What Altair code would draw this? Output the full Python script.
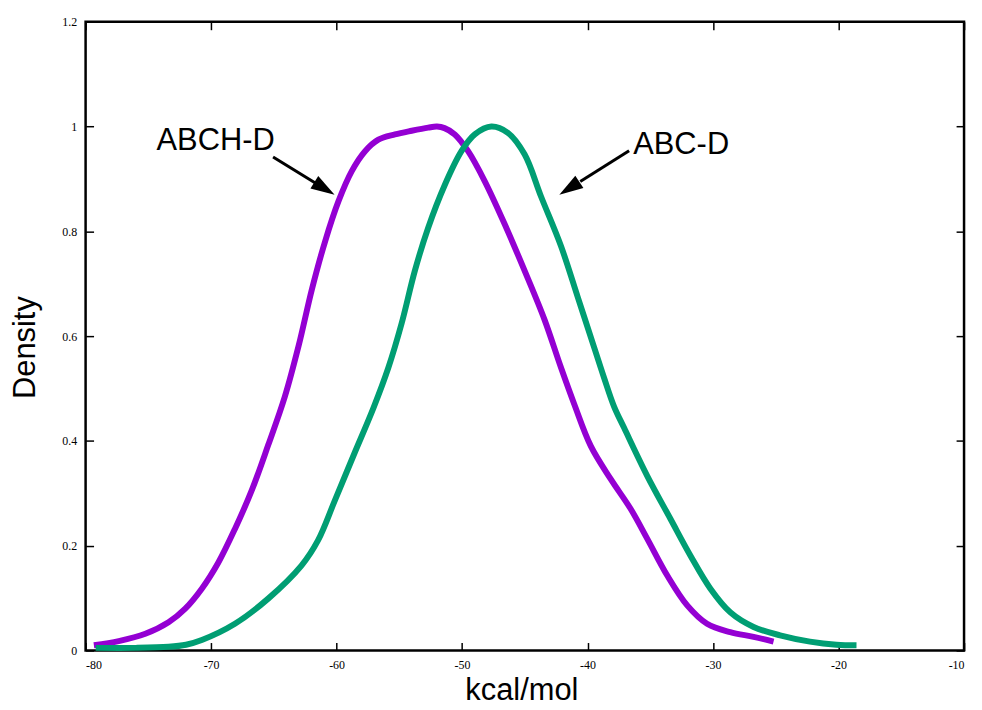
import altair as alt
import pandas as pd

# ---- data ----
abch_x = [-79.34, -77.36, -75.24, -73.39, -72.06, -70.74, -69.42, -68.10, -66.77, -65.45,
          -64.13, -63.02, -61.96, -60.90, -59.84, -58.79, -57.73, -56.67, -55.35, -54.02,
          -52.70, -52.00, -51.40, -50.58, -49.52, -48.20, -46.61, -45.02, -43.44, -42.12,
          -41.06, -39.74, -38.15, -36.56, -35.24, -33.65, -32.06, -30.48, -28.63, -26.77, -25.18]
abch_y = [0.010, 0.018, 0.032, 0.054, 0.080, 0.118, 0.168, 0.232, 0.305, 0.392,
          0.484, 0.582, 0.690, 0.782, 0.858, 0.915, 0.953, 0.975, 0.985, 0.992,
          0.998, 1.000, 0.997, 0.985, 0.953, 0.896, 0.814, 0.725, 0.632, 0.540,
          0.470, 0.390, 0.327, 0.270, 0.213, 0.143, 0.086, 0.051, 0.035, 0.026, 0.017]

abc_x = [-79.20, -76.00, -73.39, -72.00, -70.74, -68.10, -65.45, -62.80, -61.48, -60.16,
         -58.60, -57.06, -55.87, -54.82, -53.76, -52.70, -51.37, -50.05, -48.99, -47.67,
         -46.35, -45.02, -43.70, -42.12, -40.79, -39.47, -38.68, -37.88, -37.09, -35.24,
         -33.39, -31.80, -30.21, -28.63, -26.77, -24.66, -22.28, -20.16, -18.57]
abc_y = [0.005, 0.005, 0.007, 0.011, 0.020, 0.051, 0.099, 0.162, 0.210, 0.285,
         0.375, 0.463, 0.540, 0.624, 0.725, 0.807, 0.889, 0.953, 0.985, 1.000,
         0.988, 0.947, 0.866, 0.772, 0.675, 0.578, 0.520, 0.465, 0.425, 0.333,
         0.251, 0.181, 0.118, 0.073, 0.045, 0.029, 0.017, 0.011, 0.010]

series_names = ["ABCH-D", "ABC-D"]
series_colors = ["#9400D3", "#009E73"]

x_ticks = [-80, -70, -60, -50, -40, -30, -20, -10]
y_ticks = [0, 0.2, 0.4, 0.6, 0.8, 1, 1.2]

label_text = ["ABCH-D", "ABC-D"]
label_x = [-69.64, -32.54]
label_y = [0.956, 0.948]

arrow_x1 = [-65.06, -36.69]
arrow_y1 = [0.942, 0.954]
arrow_x2 = [-60.16, -42.25]
arrow_y2 = [0.8696, 0.8696]
arrow_angle = [122, 237]

# ---- tables ----
lines = pd.concat([
    pd.DataFrame({"x": abch_x, "y": abch_y, "s": series_names[0]}),
    pd.DataFrame({"x": abc_x, "y": abc_y, "s": series_names[1]}),
])
labels = pd.DataFrame({"x": label_x, "y": label_y, "t": label_text})
f = 0.7
arrows = pd.DataFrame({
    "x": arrow_x1, "y": arrow_y1,
    "xs": [a + f * (b - a) for a, b in zip(arrow_x1, arrow_x2)],
    "ys": [a + f * (b - a) for a, b in zip(arrow_y1, arrow_y2)],
    "x2": arrow_x2, "y2": arrow_y2, "ang": arrow_angle,
})

xscale = alt.Scale(domain=[-80, -10], nice=False, zero=False)
yscale = alt.Scale(domain=[0, 1.2], nice=False, zero=False)

tick_axis = dict(domain=False, grid=False, tickSize=8, offset=-8, tickWidth=1.5,
                 tickColor="black")
label_style = dict(labelFont="Liberation Serif", labelFontSize=12, labelColor="black",
                   labelExpr="'' + datum.value")
title_style = dict(titleFont="Liberation Sans", titleFontSize=31, titleFontWeight="normal",
                   titleColor="black")

x_bottom = alt.Axis(orient="bottom", values=x_ticks, labelPadding=9, title="kcal/mol",
                    titleX=438, titleY=57, titleBaseline="alphabetic", titleAnchor="middle",
                    **tick_axis, **label_style, **title_style)
y_left = alt.Axis(orient="left", values=y_ticks, labelPadding=9, title="Density",
                  titleX=-59, titleY=327, titleBaseline="alphabetic", titleAngle=-90,
                  titleAnchor="middle", **tick_axis, **label_style, **title_style)
x_top = alt.Axis(orient="top", values=x_ticks, labels=False, title=None, **tick_axis)
y_right = alt.Axis(orient="right", values=y_ticks, labels=False, title=None, **tick_axis)

line_layer = alt.Chart(lines).mark_line(strokeWidth=6, interpolate="catmull-rom").encode(
    x=alt.X("x:Q", scale=xscale, axis=x_bottom),
    y=alt.Y("y:Q", scale=yscale, axis=y_left),
    color=alt.Color("s:N", scale=alt.Scale(domain=series_names, range=series_colors), legend=None),
    detail="s:N",
)

ghost_layer = alt.Chart(lines).mark_point(opacity=0).encode(
    x=alt.X("x:Q", scale=xscale, axis=x_top),
    y=alt.Y("y:Q", scale=yscale, axis=y_right),
)

text_layer = alt.Chart(labels).mark_text(
    font="Liberation Sans", fontSize=31, color="black",
    align="center", baseline="alphabetic"
).encode(
    x=alt.X("x:Q", scale=xscale, axis=None),
    y=alt.Y("y:Q", scale=yscale, axis=None),
    text="t:N",
)

shaft_layer = alt.Chart(arrows).mark_rule(strokeWidth=3, color="black").encode(
    x=alt.X("x:Q", scale=xscale, axis=None),
    y=alt.Y("y:Q", scale=yscale, axis=None),
    x2="xs:Q",
    y2="ys:Q",
)

head_layer = alt.Chart(arrows).mark_point(
    shape="M0,0L0.31,1L-0.31,1Z", filled=True, color="black", opacity=1, size=2304, strokeWidth=0
).encode(
    x=alt.X("x2:Q", scale=xscale, axis=None),
    y=alt.Y("y2:Q", scale=yscale, axis=None),
    angle=alt.Angle("ang:Q", scale=None),
)

chart = alt.layer(line_layer, ghost_layer, text_layer, shaft_layer, head_layer).resolve_axis(
    x="independent", y="independent"
).properties(
    width=883, height=632,
    autosize=alt.AutoSizeParams(type="none"),
    padding={"left": 78, "top": 12, "right": 10, "bottom": 60},
    background="white",
).configure_view(stroke="black", strokeWidth=2.5)

chart.save("out.html", embed_options={"renderer": "svg", "actions": False})
